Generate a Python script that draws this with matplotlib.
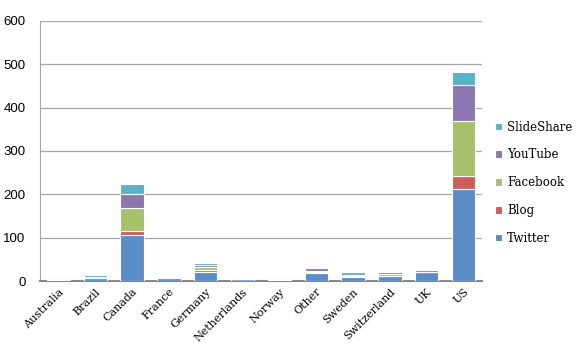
import matplotlib.pyplot as plt
import numpy as np

countries = ['Australia', 'Brazil', 'Canada', 'France', 'Germany', 'Netherlands',
             'Norway', 'Other', 'Sweden', 'Switzerland', 'UK', 'US']
twitter = [3, 7, 106, 6, 21, 5, 3, 19, 10, 11, 20, 212]
blog = [0, 1, 9, 1, 5, 0, 0, 1, 1, 1, 1, 30]
facebook = [0, 1, 53, 3, 7, 0, 0, 4, 3, 4, 1, 127]
youtube = [0, 0, 32, 0, 4, 0, 0, 7, 1, 4, 4, 83]
slideshare = [0, 5, 25, 0, 5, 0, 0, 2, 6, 1, 1, 30]

series = [('Twitter', twitter, '#5b8cc6'),
          ('Blog', blog, '#cd5f5b'),
          ('Facebook', facebook, '#a5c16b'),
          ('YouTube', youtube, '#8e76b0'),
          ('SlideShare', slideshare, '#58b3c9')]

fig = plt.figure(figsize=(5.8, 3.54), dpi=100)
ax = fig.add_axes([0.069, 0.206, 0.762, 0.735])

x = np.arange(len(countries))
bottom = np.zeros(len(countries))
for name, vals, col in series:
    ax.bar(x, vals, 0.63, bottom=bottom, color=col, edgecolor='white',
           linewidth=0.8, label=name, zorder=3)
    bottom += np.array(vals)

ax.set_xlim(-0.5, len(countries) - 0.5)
ax.set_ylim(0, 600)
ax.set_yticks(range(0, 601, 100))
ax.yaxis.grid(True, color='#a6a6a6', linewidth=0.9, zorder=0)
ax.tick_params(length=0)
ax.tick_params(axis='y', labelsize=9.5, pad=10.5)
for lab in ax.get_yticklabels():
    lab.set_family('Liberation Sans')
ax.set_xticks(x)
ax.set_xticklabels(countries, rotation=45, ha='right', rotation_mode='anchor',
                   family='DejaVu Serif', fontsize=8)
ax.tick_params(axis='x', pad=4)
for s in ['top', 'right']:
    ax.spines[s].set_visible(False)
ax.spines['left'].set_color('#a6a6a6')
ax.spines['bottom'].set_color('#888888')
ax.spines['bottom'].set_linewidth(1.5)

h, l = ax.get_legend_handles_labels()
fig.legend(h[::-1], l[::-1], loc='center left', bbox_to_anchor=(0.853, 0.484),
           frameon=False, prop={'family': 'DejaVu Serif', 'size': 8.5},
           handlelength=0.6, handleheight=0.6, handletextpad=0.45,
           labelspacing=1.25, borderaxespad=0, borderpad=0)

fig.savefig('out.png', dpi=100)
